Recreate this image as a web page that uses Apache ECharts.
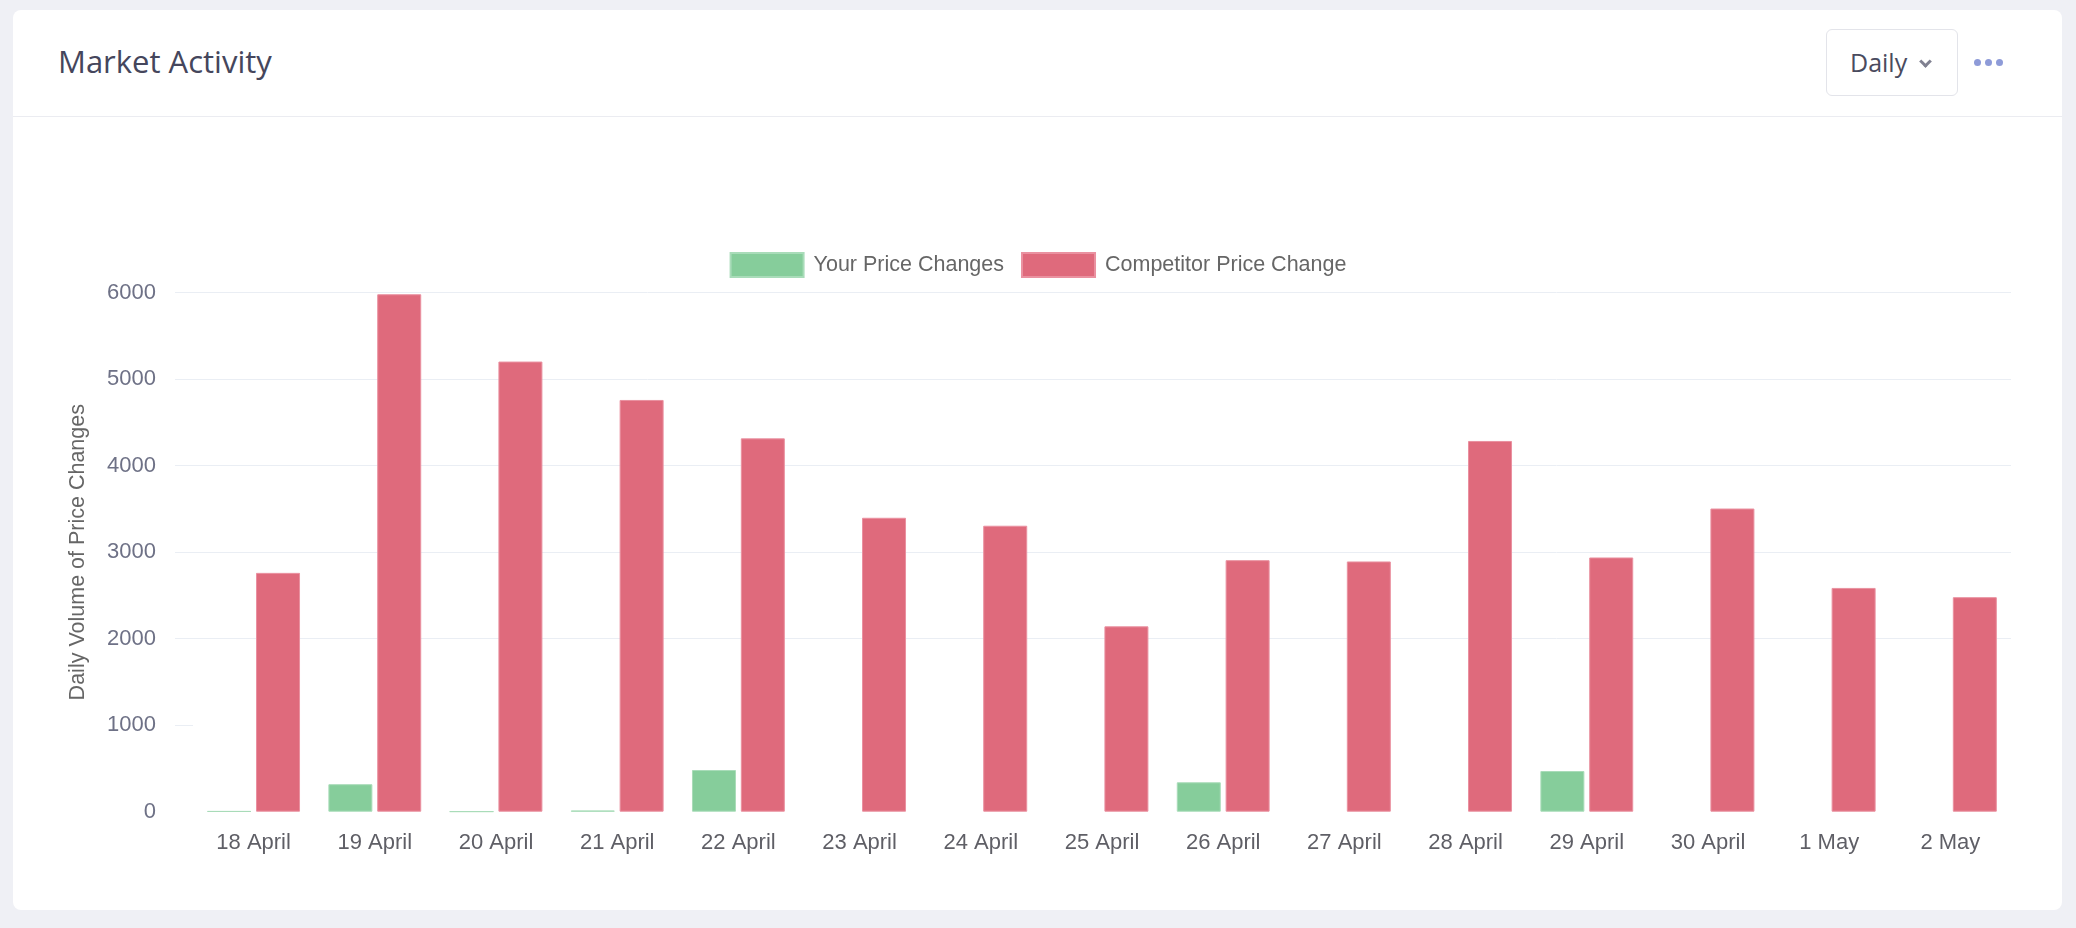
<!DOCTYPE html>
<html>
<head>
<meta charset="utf-8">
<script src="https://cdn.jsdelivr.net/npm/echarts@6/dist/echarts.min.js"></script>
<style>
  html, body { margin: 0; padding: 0; width: 2076px; height: 928px; background: #eff0f5; overflow: hidden; }
  #card { position: absolute; left: 13px; top: 10px; width: 2049px; height: 900px; background: #ffffff; border-radius: 8px; }
  #header { position: absolute; left: 0; top: 0; width: 2049px; height: 106px; border-bottom: 1px solid #ebecf1; }
  #title { position: absolute; left: 45px; top: 31px; font-family: "Open Sans", sans-serif; font-size: 31px; color: #45465c; line-height: 40px; }
  #btn { position: absolute; left: 1813px; top: 19px; width: 132px; height: 67px; border: 1px solid #e3e4ea; border-radius: 6px; box-sizing: border-box; }
  #btnText { position: absolute; left: 23px; top: 15px; font-family: "Open Sans", sans-serif; font-size: 25px; color: #4a4b5e; line-height: 34px; }
  #chev { position: absolute; left: 94px; top: 27px; width: 6px; height: 6px; border-right: 3px solid #808191; border-bottom: 3px solid #808191; transform: rotate(45deg); }
  .dot { position: absolute; top: 49px; width: 7px; height: 7px; border-radius: 50%; background: #8e9bd8; }
  #chart { position: absolute; left: 0; top: 0; width: 2076px; height: 928px; }
</style>
</head>
<body>
<div id="card">
  <div id="header">
    <div id="title">Market Activity</div>
    <div id="btn"><div id="btnText">Daily</div><div id="chev"></div></div>
    <div class="dot" style="left:1961px"></div>
    <div class="dot" style="left:1972px"></div>
    <div class="dot" style="left:1983px"></div>
  </div>
</div>
<div id="chart"></div>
<script>
const categories = ['18 April', '19 April', '20 April', '21 April', '22 April', '23 April', '24 April', '25 April', '26 April', '27 April', '28 April', '29 April', '30 April', '1 May', '2 May'];
const yourPriceChanges = [6, 318, 2, 14, 482, 0, 0, 0, 340, 0, 0, 470, 0, 0, 0];
const competitorPriceChange = [2761, 5982, 5204, 4760, 4316, 3398, 3306, 2143, 2908, 2893, 4286, 2939, 3505, 2587, 2480];
const seriesNames = ['Your Price Changes', 'Competitor Price Change'];
const axisName = 'Daily Volume of Price Changes';
const gridTickValues = [1000, 2000, 3000, 4000, 5000, 6000];

// zero-height bars are not drawn (no border sliver)
const asBars = arr => arr.map(v => (v === 0 ? '-' : v));

const chart = echarts.init(document.getElementById('chart'), null, { renderer: 'canvas' });
const gridColor = '#eaeef4';
chart.setOption({
  animation: false,
  backgroundColor: 'transparent',
  textStyle: { fontFamily: '"Liberation Sans", Arial, sans-serif' },
  legend: {
    top: 247,
    left: 'center',
    itemWidth: 73,
    itemHeight: 24,
    itemGap: 17,
    icon: 'rect',
    textStyle: { fontSize: 21.5, color: '#666666', padding: [0, 0, 0, 5] },
    data: seriesNames
  },
  grid: { left: 193, right: 65, top: 292.7, bottom: 116.3, containLabel: false },
  xAxis: {
    type: 'category',
    data: categories,
    axisLine: { show: false },
    axisTick: { show: false },
    axisLabel: { fontSize: 22, color: '#5f5f66', margin: 20 }
  },
  yAxis: {
    type: 'value',
    min: 0,
    max: 6000,
    interval: 1000,
    name: axisName,
    nameLocation: 'middle',
    nameGap: 104,
    nameTextStyle: { fontSize: 21.5, color: '#666666' },
    axisLine: { show: false },
    axisTick: { show: true, length: 18, customValues: gridTickValues, lineStyle: { color: gridColor, width: 1 } },
    splitLine: { show: true, showMinLine: false, lineStyle: { color: gridColor, width: 1 } },
    axisLabel: { fontSize: 22, color: '#6e7186', margin: 37, formatter: v => String(v) }
  },
  series: [
    {
      name: seriesNames[0],
      type: 'bar',
      data: asBars(yourPriceChanges),
      barWidth: 44,
      barGap: '11%',
      itemStyle: { color: '#86cd9b', borderColor: '#a9dcb9', borderWidth: 1 }
    },
    {
      name: seriesNames[1],
      type: 'bar',
      data: asBars(competitorPriceChange),
      barWidth: 44,
      barGap: '11%',
      itemStyle: { color: '#df6a7c', borderColor: '#ea91a0', borderWidth: 1 }
    }
  ]
});
</script>
</body>
</html>
